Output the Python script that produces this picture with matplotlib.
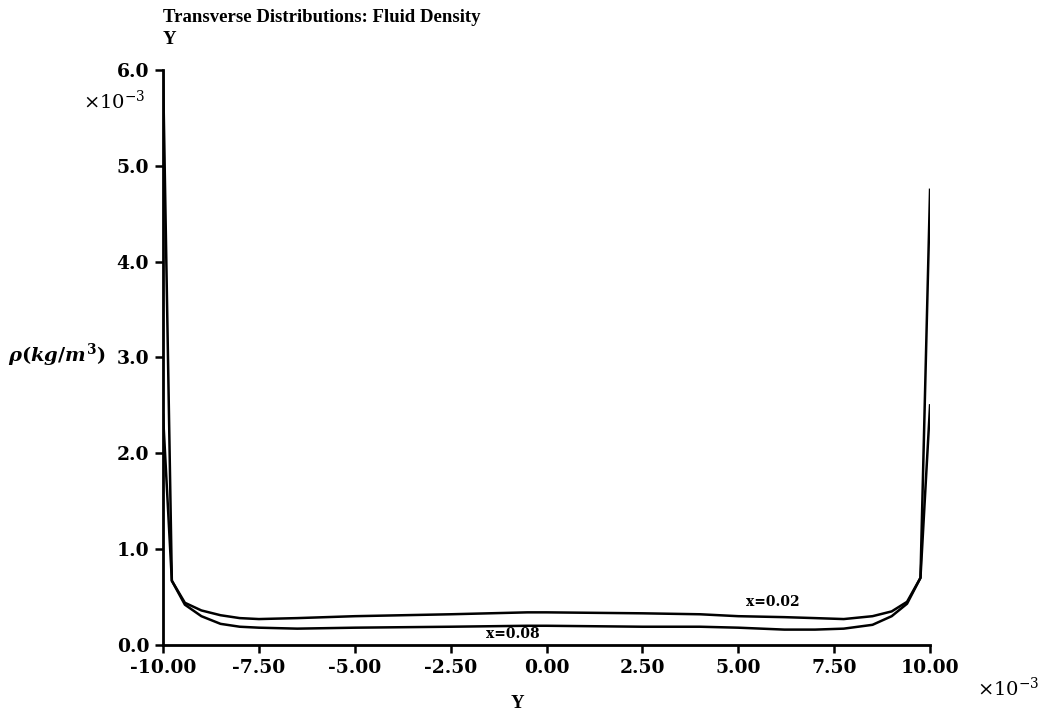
import matplotlib
matplotlib.use("Agg")
import matplotlib.pyplot as plt
import numpy as np

# Data (Y in units of 1e-3 m, density in units of 1e-3 kg/m^3)
y_pos = [-10.0, -9.77, -9.43, -9.0, -8.5, -8.0, -7.5, -6.5, -5.0, -2.5, -0.5,
         0.0, 2.5, 4.0, 5.0, 6.2, 7.0, 7.75, 8.5, 9.0, 9.4, 9.75, 10.0]
rho_x002 = [6.0, 0.67, 0.44, 0.36, 0.31, 0.28, 0.27, 0.28, 0.30, 0.32, 0.34,
            0.34, 0.33, 0.32, 0.30, 0.29, 0.28, 0.27, 0.30, 0.35, 0.45, 0.70, 4.75]
rho_x008 = [2.4, 0.67, 0.42, 0.30, 0.22, 0.19, 0.18, 0.17, 0.18, 0.19, 0.20,
            0.20, 0.19, 0.19, 0.18, 0.16, 0.16, 0.17, 0.21, 0.30, 0.43, 0.70, 2.5]

x_ticks = [-10.0, -7.5, -5.0, -2.5, 0.0, 2.5, 5.0, 7.5, 10.0]
y_ticks = [0.0, 1.0, 2.0, 3.0, 4.0, 5.0, 6.0]

plt.rcParams['font.family'] = ['DejaVu Serif']
plt.rcParams['mathtext.fontset'] = 'custom'
plt.rcParams['mathtext.it'] = 'DejaVu Serif:italic:bold'
plt.rcParams['mathtext.rm'] = 'DejaVu Serif:bold'
plt.rcParams['mathtext.bf'] = 'DejaVu Serif:bold'

fig = plt.figure(figsize=(10.45, 7.15), dpi=100)
ax = fig.add_axes([0.156, 0.098, 0.734, 0.804])

ax.plot(y_pos, rho_x002, color='black', lw=1.8)
ax.plot(y_pos, rho_x008, color='black', lw=1.8)

ax.set_xlim(-10, 10)
ax.set_ylim(0, 6)
ax.set_xticks(x_ticks)
ax.set_xticklabels([f"{v:.2f}" for v in x_ticks])
ax.set_yticks(y_ticks)
ax.set_yticklabels([f"{v:.1f}" for v in y_ticks])

for s in ['top', 'right']:
    ax.spines[s].set_visible(False)
for s in ['left', 'bottom']:
    ax.spines[s].set_linewidth(2)

ax.tick_params(axis='both', direction='out', length=6, width=1.8, labelsize=13.5, pad=4)
for lab in ax.get_xticklabels() + ax.get_yticklabels():
    lab.set_fontweight('bold')

ax.text(5.9, 0.37, "x=0.02", fontsize=10, fontweight='bold', ha='center', va='bottom')
ax.text(-0.87, 0.11, "x=0.08", fontsize=10, fontweight='bold', ha='center', va='center')

fig.text(163/1045, 1 - 17/715, "Transverse Distributions: Fluid Density",
         fontsize=13.5, fontweight='bold', ha='left', va='center',
         family='Liberation Serif')
fig.text(163/1045, 1 - 39/715, "Y", fontsize=13.5, fontweight='bold', ha='left', va='center',
         family='Liberation Serif')

fig.text(114/1045, 1 - 101/715, r"$\times10^{-3}$", fontsize=14, ha='center', va='center',
         math_fontfamily='dejavuserif')
fig.text(1008/1045, 1 - 688/715, r"$\times10^{-3}$", fontsize=14, ha='center', va='center',
         math_fontfamily='dejavuserif')

fig.text(8/1045, 1 - 355/715, r"$\rho(kg/m^3)$", fontsize=14, ha='left', va='center')
fig.text(517/1045, 1 - 703/715, "Y", fontsize=13.5, fontweight='bold', ha='center', va='center',
         family='Liberation Serif')

fig.savefig("out.png", dpi=100)
